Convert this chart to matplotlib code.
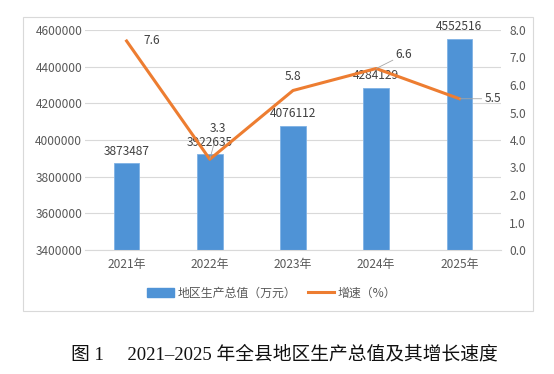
import matplotlib.pyplot as plt
import matplotlib.patches as patches
from matplotlib.lines import Line2D
import numpy as np

plt.rcParams['font.family'] = ['Noto Sans CJK SC', 'DejaVu Sans']

years = ["2021年", "2022年", "2023年", "2024年", "2025年"]
gdp = [3873487, 3922635, 4076112, 4284129, 4552516]
growth = [7.6, 3.3, 5.8, 6.6, 5.5]

bar_color = "#4f93d6"
line_color = "#ed7d31"
text_color = "#595959"

fig = plt.figure(figsize=(5.54, 3.74), dpi=100)
W, H = 554, 374
ax = fig.add_axes([85 / W, 1 - 250 / H, 416 / W, 220 / H])
ax2 = ax.twinx()

x = np.arange(len(years))
ax.bar(x, gdp, width=0.31, color=bar_color, edgecolor="#7fb2e5", linewidth=0.6, zorder=2)
ax.set_ylim(3400000, 4600000)
ax.set_yticks(np.arange(3400000, 4600001, 200000))
ax.set_yticklabels([str(v) for v in range(3400000, 4600001, 200000)])
ax.set_xlim(-0.5, 4.5)
ax.set_xticks(x)
ax.set_xticklabels(years)
ax.grid(axis="y", color="#d9d9d9", linewidth=0.8, zorder=0)
ax.set_axisbelow(True)

ax2.plot(x, growth, color=line_color, linewidth=2.2, zorder=3)
ax2.set_ylim(0, 8)
ax2.set_yticks(np.arange(0, 8.1, 1))
ax2.set_yticklabels(["%.1f" % v for v in np.arange(0, 8.1, 1)])

for a in (ax, ax2):
    for s in a.spines.values():
        s.set_visible(False)
    a.tick_params(length=0, labelsize=8.6, colors=text_color)
ax.spines["bottom"].set_visible(True)
ax.spines["bottom"].set_color("#d9d9d9")
ax.tick_params(axis="x", pad=6)
ax.tick_params(axis="y", pad=2)
ax2.tick_params(axis="y", pad=6)

# bar labels
for i, v in enumerate(gdp):
    ax.annotate(str(v), (i, v), xytext=(0, 4), textcoords="offset points",
                ha="center", va="bottom", fontsize=8.6, color="#404040")

# line labels
offsets = [(12, 0), (6, 22), (0, 10), (14, 10), (18, 0)]
leaders = [False, True, False, True, True]
for i, v in enumerate(growth):
    dx, dy = offsets[i]
    ha = "left" if dx > 10 else "center"
    props = dict(arrowstyle="-", color="#a6a6a6", lw=0.6, shrinkA=0, shrinkB=0) if leaders[i] else None
    ax2.annotate("%.1f" % v, (i, v), xytext=(dx, dy), textcoords="offset points",
                 ha=ha, va="center", fontsize=8.6, color="#404040", arrowprops=props)

# legend
handles = [patches.Patch(color=bar_color), Line2D([], [], color=line_color, lw=2.2)]
fig.legend(handles, ["地区生产总值（万元）", "增速（%）"], loc="center",
           bbox_to_anchor=(272 / W, 1 - 293 / H), ncol=2, frameon=False,
           fontsize=8.6, labelcolor=text_color, handlelength=2.2, handleheight=0.7,
           columnspacing=1.0, handletextpad=0.3)

# chart frame
fig.patches.append(patches.Rectangle((23 / W, 1 - 311 / H), 510 / W, 294 / H,
                                     transform=fig.transFigure, fill=False,
                                     edgecolor="#d9d9d9", linewidth=0.8))

fig.text(284 / W, 1 - 355 / H, "图 1\u2003 2021–2025 年全县地区生产总值及其增长速度",
         ha="center", va="center", fontsize=13.5,
         family=["Liberation Serif", "Noto Sans CJK SC"], color="#111111")

fig.savefig("out.png", dpi=100)
